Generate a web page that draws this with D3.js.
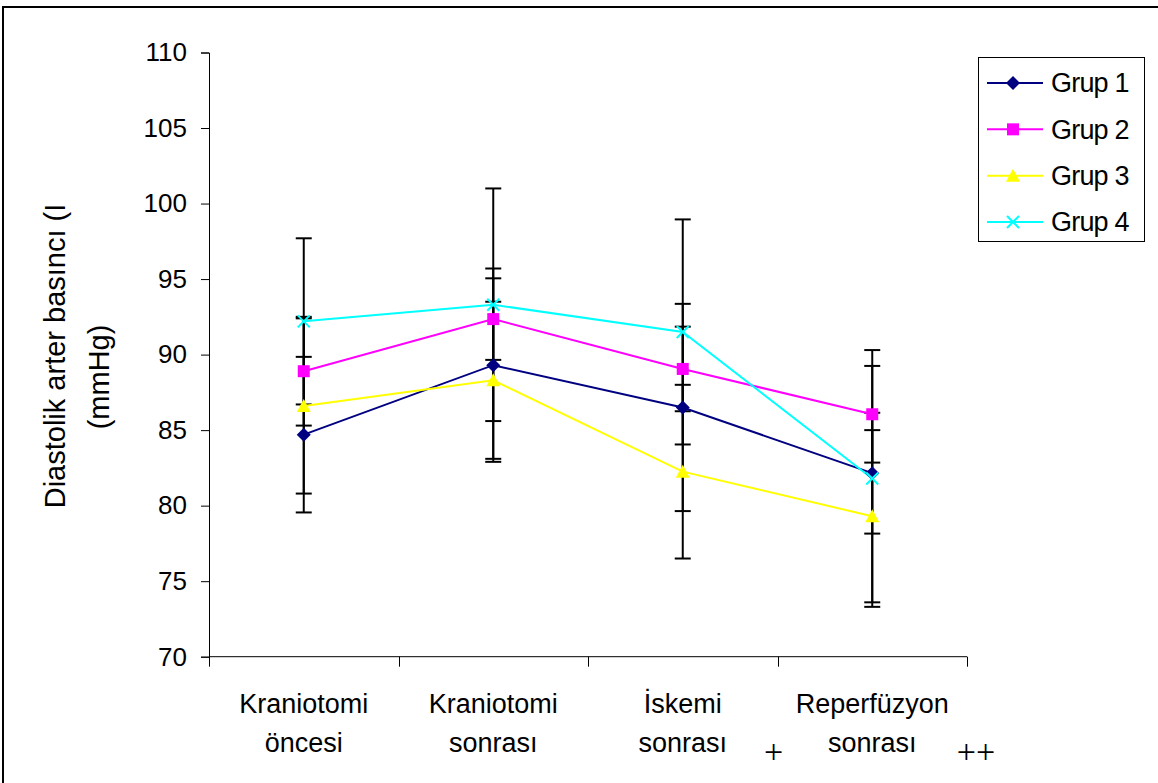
<!DOCTYPE html>
<html>
<head>
<meta charset="utf-8">
<script src="https://cdn.jsdelivr.net/npm/d3@7"></script>
<style>
  html, body { margin: 0; padding: 0; background: #fff; }
  svg { display: block; font-family: "Liberation Sans", Arial, sans-serif; }
</style>
</head>
<body>
<svg id="chart" width="1158" height="783"></svg>
<script>
// Diastolic arterial pressure per group, mean ± SD at four time points
const categories = [
  ["Kraniotomi", "öncesi"],
  ["Kraniotomi", "sonrası"],
  ["İskemi", "sonrası"],
  ["Reperfüzyon", "sonrası"]
];
const seriesNames = ["Grup 1", "Grup 2", "Grup 3", "Grup 4"];
const grup1 = [84.7, 89.3, 86.5, 82.15];
const grup2 = [88.9, 92.35, 89.05, 86.05];
const grup3 = [86.6, 88.3, 82.25, 79.3];
const grup4 = [92.2, 93.3, 91.5, 81.8];
const grup1Err = [5.15, 6.4, 6.86, 4.0];
const grup2Err = [3.6, 2.7, 2.8, 3.2];
const grup3Err = [5.8, 5.2, 5.75, 5.7];
const grup4Err = [5.5, 7.7, 7.45, 8.5];
const yTicks = [70, 75, 80, 85, 90, 95, 100, 105, 110];
const yLabelLines = ["Diastolik arter basıncı (I", "(mmHg)"];
// significance marks placed just past the right edge of a category band
const markNotes = [{ cat: 2, text: "+" }, { cat: 3, text: "++" }];

const colors = ["#000080", "#FF00FF", "#FFFF00", "#00FFFF"];
const symbols = ["diamond", "square", "triangle", "cross"];

const series = seriesNames.map((name, i) => ({
  name,
  values: [grup1, grup2, grup3, grup4][i],
  errs: [grup1Err, grup2Err, grup3Err, grup4Err][i],
  color: colors[i],
  symbol: symbols[i]
}));

const svg = d3.select("#chart");

// outer frame of the chart
svg.append("rect")
  .attr("x", 3).attr("y", 7)
  .attr("width", 1200).attr("height", 820)
  .attr("fill", "none").attr("stroke", "#000").attr("stroke-width", 2);

const plot = { left: 209, right: 967, top: 52.5, bottom: 656.7 };

const catKeys = categories.map((c, i) => i);
const x = d3.scaleBand().domain(catKeys).range([plot.left, plot.right]).padding(0);
const xc = i => x(i) + x.bandwidth() / 2;
const y = d3.scaleLinear().domain([70, 110]).range([plot.bottom, plot.top]);

// Y axis
const yAxis = svg.append("g")
  .attr("transform", `translate(${plot.left},0)`)
  .call(d3.axisLeft(y).tickValues(yTicks).tickSize(8).tickPadding(14).tickFormat(d3.format("d")));
yAxis.select(".domain").attr("stroke", "#000").attr("stroke-width", 1);
yAxis.selectAll(".tick line").attr("stroke", "#000");
yAxis.selectAll(".tick text")
  .attr("font-size", 26).attr("fill", "#000")
  .attr("font-family", "'Liberation Sans', Arial, sans-serif");

// X axis line with category boundary ticks
const xAxisG = svg.append("g");
xAxisG.append("line")
  .attr("x1", plot.left).attr("x2", plot.right)
  .attr("y1", y(70)).attr("y2", y(70))
  .attr("stroke", "#000").attr("stroke-width", 1);
const bounds = catKeys.map(i => x(i)).concat([x(catKeys.length - 1) + x.bandwidth()]);
xAxisG.selectAll("line.bt").data(bounds).join("line")
  .attr("class", "bt")
  .attr("x1", d => Math.round(d) + 0.5).attr("x2", d => Math.round(d) + 0.5)
  .attr("y1", y(70)).attr("y2", y(70) + 10)
  .attr("stroke", "#000").attr("stroke-width", 1);

// Category labels (two lines)
const catLabels = svg.append("g").selectAll("text").data(categories).join("text")
  .attr("text-anchor", "middle")
  .attr("font-size", 27)
  .attr("fill", "#000");
catLabels.each(function (lines, i) {
  const t = d3.select(this);
  lines.forEach((ln, k) => {
    t.append("tspan").attr("x", xc(i)).attr("y", 713 + k * 39).text(ln);
  });
});

// significance marks beside the category labels
svg.append("g").selectAll("text").data(markNotes).join("text")
  .attr("x", d => x(d.cat) + x.bandwidth() + (d.text === "+" ? -4 : 9))
  .attr("y", 751)
  .attr("dominant-baseline", "central")
  .attr("text-anchor", "middle")
  .attr("font-family", "'Liberation Serif', 'Times New Roman', serif")
  .attr("font-size", 34)
  .attr("font-weight", 300)
  .attr("fill", "#000")
  .text(d => d.text);

// Y axis title
const yTitle = svg.append("g").attr("transform", "rotate(-90)");
yTitle.append("text")
  .attr("x", -356).attr("y", 65)
  .attr("text-anchor", "middle").attr("font-size", 29).attr("fill", "#000")
  .text(yLabelLines[0]);
yTitle.append("text")
  .attr("x", -377).attr("y", 109)
  .attr("text-anchor", "middle").attr("font-size", 29).attr("fill", "#000")
  .text(yLabelLines[1]);

// Error bars
const errG = svg.append("g");
series.forEach(s => {
  s.values.forEach((v, i) => {
    const e = s.errs[i];
    const cx = xc(i);
    const g = errG.append("g").attr("stroke", "#000").attr("stroke-width", 2);
    g.append("line").attr("x1", cx).attr("x2", cx).attr("y1", y(v + e)).attr("y2", y(v - e));
    g.append("line").attr("x1", cx - 8).attr("x2", cx + 8).attr("y1", y(v + e)).attr("y2", y(v + e));
    g.append("line").attr("x1", cx - 8).attr("x2", cx + 8).attr("y1", y(v - e)).attr("y2", y(v - e));
  });
});

// Marker drawing
function drawMarker(sel, sym, color, cx, cy) {
  if (sym === "diamond") {
    sel.append("path")
      .attr("d", `M${cx},${cy - 7}L${cx + 7},${cy}L${cx},${cy + 7}L${cx - 7},${cy}Z`)
      .attr("fill", color);
  } else if (sym === "square") {
    sel.append("rect").attr("x", cx - 6).attr("y", cy - 6).attr("width", 12).attr("height", 12)
      .attr("fill", color);
  } else if (sym === "triangle") {
    sel.append("path")
      .attr("d", `M${cx},${cy - 7}L${cx + 7},${cy + 6}L${cx - 7},${cy + 6}Z`)
      .attr("fill", color);
  } else {
    sel.append("path")
      .attr("d", `M${cx - 6},${cy - 6}L${cx + 6},${cy + 6}M${cx - 6},${cy + 6}L${cx + 6},${cy - 6}`)
      .attr("stroke", color).attr("stroke-width", 2).attr("fill", "none");
  }
}

// Lines
const line = d3.line().x((d, i) => xc(i)).y(d => y(d));
const linesG = svg.append("g");
series.forEach(s => {
  linesG.append("path").datum(s.values)
    .attr("d", line)
    .attr("fill", "none").attr("stroke", s.color).attr("stroke-width", 2);
});
const markG = svg.append("g");
series.forEach(s => {
  s.values.forEach((v, i) => drawMarker(markG, s.symbol, s.color, xc(i), y(v)));
});

// Legend
const legend = svg.append("g");
legend.append("rect")
  .attr("x", 978.5).attr("y", 57.5).attr("width", 166).attr("height", 184)
  .attr("fill", "#fff").attr("stroke", "#000").attr("stroke-width", 1);
const legY = d3.scalePoint().domain(seriesNames).range([83, 222]);
series.forEach(s => {
  const ly = legY(s.name);
  legend.append("line").attr("x1", 987).attr("x2", 1043).attr("y1", ly).attr("y2", ly)
    .attr("stroke", s.color).attr("stroke-width", 2);
  drawMarker(legend, s.symbol, s.color, 1013, ly);
  legend.append("text").attr("x", 1051).attr("y", ly).attr("dy", "0.35em")
    .attr("font-size", 27).attr("fill", "#000").attr("letter-spacing", -0.8).text(s.name);
});
</script>
</body>
</html>
